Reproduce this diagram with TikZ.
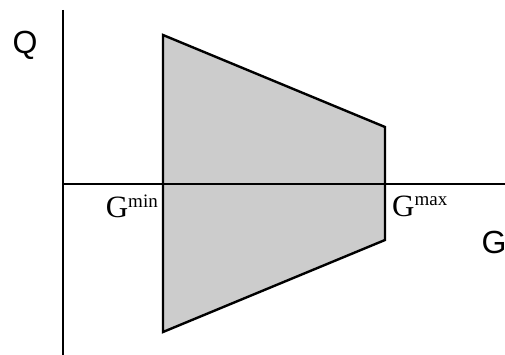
\documentclass[tikz,border=0pt]{standalone}
\usepackage{fontspec}
\setmainfont{Liberation Serif}
\setsansfont{Liberation Sans}
\begin{document}
\begin{tikzpicture}[x=1pt,y=-1pt,
  axis/.style={line width=2.4pt,black},
  region/.style={line width=2.4pt,black,fill={rgb,255:red,204;green,204;blue,204},line join=miter},
  axlabel/.style={font=\sffamily\fontsize{32}{32}\selectfont,inner sep=0pt},
  glabel/.style={font=\rmfamily\fontsize{31}{31}\selectfont,inner sep=0pt}]
\useasboundingbox (0,0) rectangle (505,355);
\coordinate (ytop) at (63,10);
\coordinate (ybot) at (63,355);
\coordinate (xl) at (63,184);
\coordinate (xr) at (505,184);
\coordinate (tl) at (163,35);
\coordinate (tr) at (385,127);
\coordinate (br) at (385,240);
\coordinate (bl) at (163,332);
\draw[region] (tl) -- (tr) -- (br) -- (bl) -- cycle;
\draw[axis] (ytop) -- (ybot);
\draw[axis] (xl) -- (xr);
\node[axlabel] (q) at (25,45) {Q};
\node[axlabel] (g) at (494,242) {G};
\node[glabel,anchor=base east] (gmin) at (158,218) {G\raisebox{10pt}{\fontsize{19}{19}\selectfont min}};
\node[glabel,anchor=base west] (gmax) at (392,216) {G\raisebox{10pt}{\fontsize{19}{19}\selectfont max}};
\end{tikzpicture}
\end{document}
